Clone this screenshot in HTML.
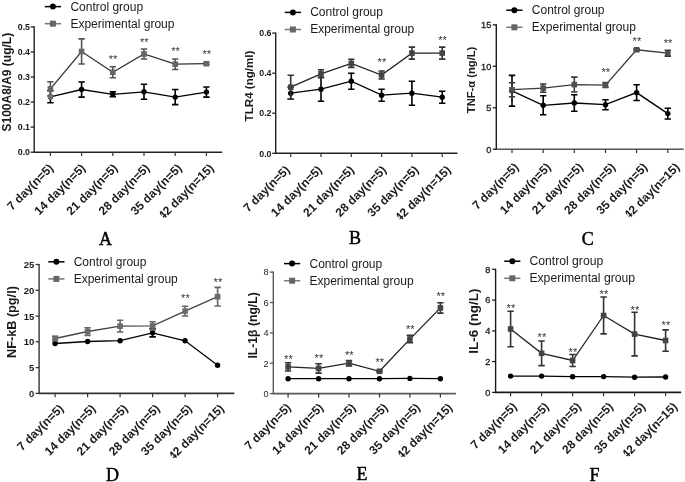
<!DOCTYPE html>
<html><head><meta charset="utf-8"><style>
html,body{margin:0;padding:0;background:#fff;}
body{width:685px;height:482px;overflow:hidden;}
svg{display:block;font-family:"Liberation Sans", sans-serif;filter:blur(0.3px);}
</style></head><body>
<svg width="685" height="482" viewBox="0 0 685 482">
<defs><clipPath id="lc" clipPathUnits="userSpaceOnUse"><rect x="-70.8" y="-20" width="80" height="35"/></clipPath></defs>
<rect width="685" height="482" fill="#fff"/>
<g>
<line x1="33.6" y1="152.2" x2="222.2" y2="152.2" stroke="#222" stroke-width="1.6"/>
<line x1="34.2" y1="26.3" x2="34.2" y2="152.2" stroke="#222" stroke-width="1.4"/>
<line x1="30.7" y1="152.2" x2="34.2" y2="152.2" stroke="#222" stroke-width="1.3"/>
<text x="30.0" y="155.4" font-size="8.8" font-weight="bold" text-anchor="end" fill="#1a1a1a">0.0</text>
<line x1="30.7" y1="127.1" x2="34.2" y2="127.1" stroke="#222" stroke-width="1.3"/>
<text x="30.0" y="130.3" font-size="8.8" font-weight="bold" text-anchor="end" fill="#1a1a1a">0.1</text>
<line x1="30.7" y1="102.1" x2="34.2" y2="102.1" stroke="#222" stroke-width="1.3"/>
<text x="30.0" y="105.2" font-size="8.8" font-weight="bold" text-anchor="end" fill="#1a1a1a">0.2</text>
<line x1="30.7" y1="77.0" x2="34.2" y2="77.0" stroke="#222" stroke-width="1.3"/>
<text x="30.0" y="80.2" font-size="8.8" font-weight="bold" text-anchor="end" fill="#1a1a1a">0.3</text>
<line x1="30.7" y1="52.0" x2="34.2" y2="52.0" stroke="#222" stroke-width="1.3"/>
<text x="30.0" y="55.1" font-size="8.8" font-weight="bold" text-anchor="end" fill="#1a1a1a">0.4</text>
<line x1="30.7" y1="26.9" x2="34.2" y2="26.9" stroke="#222" stroke-width="1.3"/>
<text x="30.0" y="30.1" font-size="8.8" font-weight="bold" text-anchor="end" fill="#1a1a1a">0.5</text>
<line x1="50.4" y1="152.2" x2="50.4" y2="156.0" stroke="#333" stroke-width="1.2"/>
<text transform="translate(54.1 168.8) rotate(-45)" font-size="12" font-weight="bold" text-anchor="end" fill="#1a1a1a">7 day(n=5)</text>
<line x1="81.6" y1="152.2" x2="81.6" y2="156.0" stroke="#333" stroke-width="1.2"/>
<text transform="translate(86.2 168.8) rotate(-45)" font-size="12" font-weight="bold" text-anchor="end" fill="#1a1a1a">14 day(n=5)</text>
<line x1="112.8" y1="152.2" x2="112.8" y2="156.0" stroke="#333" stroke-width="1.2"/>
<text transform="translate(118.3 168.8) rotate(-45)" font-size="12" font-weight="bold" text-anchor="end" fill="#1a1a1a">21 day(n=5)</text>
<line x1="144.0" y1="152.2" x2="144.0" y2="156.0" stroke="#333" stroke-width="1.2"/>
<text transform="translate(150.4 168.8) rotate(-45)" font-size="12" font-weight="bold" text-anchor="end" fill="#1a1a1a">28 day(n=5)</text>
<line x1="175.2" y1="152.2" x2="175.2" y2="156.0" stroke="#333" stroke-width="1.2"/>
<text transform="translate(182.5 168.8) rotate(-45)" font-size="12" font-weight="bold" text-anchor="end" fill="#1a1a1a">35 day(n=5)</text>
<line x1="206.4" y1="152.2" x2="206.4" y2="156.0" stroke="#333" stroke-width="1.2"/>
<text transform="translate(214.6 168.8) rotate(-45)" font-size="12" font-weight="bold" text-anchor="end" fill="#1a1a1a" clip-path="url(#lc)">42 day(n=15)</text>
<text transform="translate(11.0 131.5) rotate(-90)" font-size="12.0" font-weight="bold" fill="#1a1a1a">S100A8/A9 (ug/L)</text>
<text x="105.5" y="245.3" font-family='"Liberation Serif", serif' font-size="18" text-anchor="middle" fill="#000" stroke="#000" stroke-width="0.45">A</text>
<line x1="44.8" y1="6.6" x2="61.0" y2="6.6" stroke="#000" stroke-width="1.5"/>
<circle cx="52.9" cy="6.6" r="3.0" fill="#000"/>
<text x="70.4" y="10.5" font-size="12.0" fill="#1a1a1a">Control group</text>
<line x1="44.8" y1="23.7" x2="61.0" y2="23.7" stroke="#777" stroke-width="1.5"/>
<rect x="49.9" y="20.7" width="6" height="6" fill="#666"/>
<text x="70.4" y="27.6" font-size="12.0" fill="#1a1a1a">Experimental group</text>
<polyline points="50.4,96.8 81.6,89.5 112.8,94.3 144.0,91.8 175.2,97.1 206.4,92.1" fill="none" stroke="#000" stroke-width="1.3"/>
<path d="M50.4 90.8 V102.8 M47.2 90.8 h6.4 M47.2 102.8 h6.4" stroke="#000" stroke-width="1.6" fill="none"/>
<circle cx="50.4" cy="96.8" r="2.7" fill="#000"/>
<path d="M81.6 82.0 V97.1 M78.4 82.0 h6.4 M78.4 97.1 h6.4" stroke="#000" stroke-width="1.6" fill="none"/>
<circle cx="81.6" cy="89.5" r="2.7" fill="#000"/>
<path d="M112.8 91.8 V96.8 M109.6 91.8 h6.4 M109.6 96.8 h6.4" stroke="#000" stroke-width="1.6" fill="none"/>
<circle cx="112.8" cy="94.3" r="2.7" fill="#000"/>
<path d="M144.0 84.3 V99.3 M140.8 84.3 h6.4 M140.8 99.3 h6.4" stroke="#000" stroke-width="1.6" fill="none"/>
<circle cx="144.0" cy="91.8" r="2.7" fill="#000"/>
<path d="M175.2 89.5 V104.6 M172.0 89.5 h6.4 M172.0 104.6 h6.4" stroke="#000" stroke-width="1.6" fill="none"/>
<circle cx="175.2" cy="97.1" r="2.7" fill="#000"/>
<path d="M206.4 87.0 V97.1 M203.2 87.0 h6.4 M203.2 97.1 h6.4" stroke="#000" stroke-width="1.6" fill="none"/>
<circle cx="206.4" cy="92.1" r="2.7" fill="#000"/>
<polyline points="50.4,88.8 81.6,51.5 112.8,72.3 144.0,54.0 175.2,64.2 206.4,63.7" fill="none" stroke="#333" stroke-width="1.3"/>
<path d="M50.4 81.8 V95.8 M47.2 81.8 h6.4 M47.2 95.8 h6.4" stroke="#555" stroke-width="1.6" fill="none"/>
<rect x="47.6" y="86.0" width="5.6" height="5.6" fill="#666"/>
<path d="M81.6 38.9 V64.0 M78.4 38.9 h6.4 M78.4 64.0 h6.4" stroke="#555" stroke-width="1.6" fill="none"/>
<rect x="78.8" y="48.7" width="5.6" height="5.6" fill="#666"/>
<path d="M112.8 66.7 V77.8 M109.6 66.7 h6.4 M109.6 77.8 h6.4" stroke="#555" stroke-width="1.6" fill="none"/>
<rect x="110.0" y="69.5" width="5.6" height="5.6" fill="#666"/>
<path d="M144.0 49.0 V59.0 M140.8 49.0 h6.4 M140.8 59.0 h6.4" stroke="#555" stroke-width="1.6" fill="none"/>
<rect x="141.2" y="51.2" width="5.6" height="5.6" fill="#666"/>
<path d="M175.2 59.0 V69.5 M172.0 59.0 h6.4 M172.0 69.5 h6.4" stroke="#555" stroke-width="1.6" fill="none"/>
<rect x="172.4" y="61.4" width="5.6" height="5.6" fill="#666"/>
<path d="M206.4 62.7 V64.7 M203.2 62.7 h6.4 M203.2 64.7 h6.4" stroke="#555" stroke-width="1.6" fill="none"/>
<rect x="203.6" y="60.9" width="5.6" height="5.6" fill="#666"/>
<text x="113.1" y="62.7" font-size="11" text-anchor="middle" fill="#333">**</text>
<text x="144.3" y="45.5" font-size="11" text-anchor="middle" fill="#333">**</text>
<text x="175.5" y="54.8" font-size="11" text-anchor="middle" fill="#333">**</text>
<text x="206.7" y="57.8" font-size="11" text-anchor="middle" fill="#333">**</text>
<path d="M50.4 93.8 l3 3 l-3 3 l-3 -3 z" fill="#777"/>
</g>
<g>
<line x1="275.1" y1="153.3" x2="457.5" y2="153.3" stroke="#222" stroke-width="1.6"/>
<line x1="275.7" y1="32.5" x2="275.7" y2="153.3" stroke="#222" stroke-width="1.4"/>
<line x1="272.2" y1="153.3" x2="275.7" y2="153.3" stroke="#222" stroke-width="1.3"/>
<text x="271.5" y="156.5" font-size="8.8" font-weight="bold" text-anchor="end" fill="#1a1a1a">0.0</text>
<line x1="272.2" y1="113.2" x2="275.7" y2="113.2" stroke="#222" stroke-width="1.3"/>
<text x="271.5" y="116.4" font-size="8.8" font-weight="bold" text-anchor="end" fill="#1a1a1a">0.2</text>
<line x1="272.2" y1="73.2" x2="275.7" y2="73.2" stroke="#222" stroke-width="1.3"/>
<text x="271.5" y="76.3" font-size="8.8" font-weight="bold" text-anchor="end" fill="#1a1a1a">0.4</text>
<line x1="272.2" y1="33.1" x2="275.7" y2="33.1" stroke="#222" stroke-width="1.3"/>
<text x="271.5" y="36.3" font-size="8.8" font-weight="bold" text-anchor="end" fill="#1a1a1a">0.6</text>
<line x1="290.7" y1="153.3" x2="290.7" y2="157.1" stroke="#333" stroke-width="1.2"/>
<text transform="translate(290.5 170.6) rotate(-45)" font-size="12" font-weight="bold" text-anchor="end" fill="#1a1a1a">7 day(n=5)</text>
<line x1="321.0" y1="153.3" x2="321.0" y2="157.1" stroke="#333" stroke-width="1.2"/>
<text transform="translate(322.7 170.6) rotate(-45)" font-size="12" font-weight="bold" text-anchor="end" fill="#1a1a1a">14 day(n=5)</text>
<line x1="351.3" y1="153.3" x2="351.3" y2="157.1" stroke="#333" stroke-width="1.2"/>
<text transform="translate(354.9 170.6) rotate(-45)" font-size="12" font-weight="bold" text-anchor="end" fill="#1a1a1a">21 day(n=5)</text>
<line x1="381.6" y1="153.3" x2="381.6" y2="157.1" stroke="#333" stroke-width="1.2"/>
<text transform="translate(387.1 170.6) rotate(-45)" font-size="12" font-weight="bold" text-anchor="end" fill="#1a1a1a">28 day(n=5)</text>
<line x1="411.9" y1="153.3" x2="411.9" y2="157.1" stroke="#333" stroke-width="1.2"/>
<text transform="translate(419.3 170.6) rotate(-45)" font-size="12" font-weight="bold" text-anchor="end" fill="#1a1a1a">35 day(n=5)</text>
<line x1="442.2" y1="153.3" x2="442.2" y2="157.1" stroke="#333" stroke-width="1.2"/>
<text transform="translate(451.5 170.6) rotate(-45)" font-size="12" font-weight="bold" text-anchor="end" fill="#1a1a1a" clip-path="url(#lc)">42 day(n=15)</text>
<text transform="translate(253.3 121.4) rotate(-90)" font-size="11.6" font-weight="bold" fill="#1a1a1a">TLR4 (ng/ml)</text>
<text x="354.9" y="244.3" font-family='"Liberation Serif", serif' font-size="18" text-anchor="middle" fill="#000" stroke="#000" stroke-width="0.45">B</text>
<line x1="284.8" y1="12.4" x2="301.0" y2="12.4" stroke="#000" stroke-width="1.5"/>
<circle cx="292.9" cy="12.4" r="3.0" fill="#000"/>
<text x="310.2" y="16.3" font-size="12.0" fill="#1a1a1a">Control group</text>
<line x1="284.8" y1="29.5" x2="301.0" y2="29.5" stroke="#777" stroke-width="1.5"/>
<rect x="289.9" y="26.5" width="6" height="6" fill="#666"/>
<text x="310.2" y="33.4" font-size="12.0" fill="#1a1a1a">Experimental group</text>
<polyline points="290.7,93.2 321.0,89.2 351.3,81.2 381.6,95.2 411.9,93.2 442.2,97.2" fill="none" stroke="#000" stroke-width="1.3"/>
<path d="M290.7 87.2 V99.2 M287.5 87.2 h6.4 M287.5 99.2 h6.4" stroke="#000" stroke-width="1.6" fill="none"/>
<circle cx="290.7" cy="93.2" r="2.7" fill="#000"/>
<path d="M321.0 77.2 V101.2 M317.8 77.2 h6.4 M317.8 101.2 h6.4" stroke="#000" stroke-width="1.6" fill="none"/>
<circle cx="321.0" cy="89.2" r="2.7" fill="#000"/>
<path d="M351.3 73.2 V89.2 M348.1 73.2 h6.4 M348.1 89.2 h6.4" stroke="#000" stroke-width="1.6" fill="none"/>
<circle cx="351.3" cy="81.2" r="2.7" fill="#000"/>
<path d="M381.6 89.2 V101.2 M378.4 89.2 h6.4 M378.4 101.2 h6.4" stroke="#000" stroke-width="1.6" fill="none"/>
<circle cx="381.6" cy="95.2" r="2.7" fill="#000"/>
<path d="M411.9 81.2 V105.2 M408.7 81.2 h6.4 M408.7 105.2 h6.4" stroke="#000" stroke-width="1.6" fill="none"/>
<circle cx="411.9" cy="93.2" r="2.7" fill="#000"/>
<path d="M442.2 91.2 V103.2 M439.0 91.2 h6.4 M439.0 103.2 h6.4" stroke="#000" stroke-width="1.6" fill="none"/>
<circle cx="442.2" cy="97.2" r="2.7" fill="#000"/>
<polyline points="290.7,87.2 321.0,73.8 351.3,63.4 381.6,75.0 411.9,53.1 442.2,53.1" fill="none" stroke="#222" stroke-width="1.3"/>
<path d="M290.7 75.2 V99.2 M287.5 75.2 h6.4 M287.5 99.2 h6.4" stroke="#333" stroke-width="1.6" fill="none"/>
<rect x="287.9" y="84.4" width="5.6" height="5.6" fill="#444"/>
<path d="M321.0 69.8 V77.8 M317.8 69.8 h6.4 M317.8 77.8 h6.4" stroke="#333" stroke-width="1.6" fill="none"/>
<rect x="318.2" y="71.0" width="5.6" height="5.6" fill="#444"/>
<path d="M351.3 59.3 V67.4 M348.1 59.3 h6.4 M348.1 67.4 h6.4" stroke="#333" stroke-width="1.6" fill="none"/>
<rect x="348.5" y="60.6" width="5.6" height="5.6" fill="#444"/>
<path d="M381.6 71.0 V79.0 M378.4 71.0 h6.4 M378.4 79.0 h6.4" stroke="#333" stroke-width="1.6" fill="none"/>
<rect x="378.8" y="72.2" width="5.6" height="5.6" fill="#444"/>
<path d="M411.9 47.1 V59.1 M408.7 47.1 h6.4 M408.7 59.1 h6.4" stroke="#333" stroke-width="1.6" fill="none"/>
<rect x="409.1" y="50.3" width="5.6" height="5.6" fill="#444"/>
<path d="M442.2 47.1 V59.1 M439.0 47.1 h6.4 M439.0 59.1 h6.4" stroke="#333" stroke-width="1.6" fill="none"/>
<rect x="439.4" y="50.3" width="5.6" height="5.6" fill="#444"/>
<text x="381.9" y="65.6" font-size="11" text-anchor="middle" fill="#333">**</text>
<text x="442.5" y="43.6" font-size="11" text-anchor="middle" fill="#333">**</text>
</g>
<g>
<line x1="495.7" y1="149.2" x2="683.7" y2="149.2" stroke="#555" stroke-width="1.6"/>
<line x1="496.3" y1="24.3" x2="496.3" y2="149.2" stroke="#1a1a1a" stroke-width="1.4"/>
<line x1="492.8" y1="149.2" x2="496.3" y2="149.2" stroke="#1a1a1a" stroke-width="1.3"/>
<text x="491.3" y="152.5" font-size="9.2" font-weight="normal" text-anchor="end" fill="#1a1a1a" stroke="#1a1a1a" stroke-width="0.30">0</text>
<line x1="492.8" y1="107.8" x2="496.3" y2="107.8" stroke="#1a1a1a" stroke-width="1.3"/>
<text x="491.3" y="111.1" font-size="9.2" font-weight="normal" text-anchor="end" fill="#1a1a1a" stroke="#1a1a1a" stroke-width="0.30">5</text>
<line x1="492.8" y1="66.3" x2="496.3" y2="66.3" stroke="#1a1a1a" stroke-width="1.3"/>
<text x="491.3" y="69.6" font-size="9.2" font-weight="normal" text-anchor="end" fill="#1a1a1a" stroke="#1a1a1a" stroke-width="0.30">10</text>
<line x1="492.8" y1="24.9" x2="496.3" y2="24.9" stroke="#1a1a1a" stroke-width="1.3"/>
<text x="491.3" y="28.2" font-size="9.2" font-weight="normal" text-anchor="end" fill="#1a1a1a" stroke="#1a1a1a" stroke-width="0.30">15</text>
<line x1="512.0" y1="149.2" x2="512.0" y2="153.0" stroke="#333" stroke-width="1.2"/>
<text transform="translate(519.4 168.0) rotate(-45)" font-size="12" font-weight="bold" text-anchor="end" fill="#1a1a1a">7 day(n=5)</text>
<line x1="543.2" y1="149.2" x2="543.2" y2="153.0" stroke="#333" stroke-width="1.2"/>
<text transform="translate(551.6 168.0) rotate(-45)" font-size="12" font-weight="bold" text-anchor="end" fill="#1a1a1a">14 day(n=5)</text>
<line x1="574.3" y1="149.2" x2="574.3" y2="153.0" stroke="#333" stroke-width="1.2"/>
<text transform="translate(583.8 168.0) rotate(-45)" font-size="12" font-weight="bold" text-anchor="end" fill="#1a1a1a">21 day(n=5)</text>
<line x1="605.5" y1="149.2" x2="605.5" y2="153.0" stroke="#333" stroke-width="1.2"/>
<text transform="translate(616.0 168.0) rotate(-45)" font-size="12" font-weight="bold" text-anchor="end" fill="#1a1a1a">28 day(n=5)</text>
<line x1="636.6" y1="149.2" x2="636.6" y2="153.0" stroke="#333" stroke-width="1.2"/>
<text transform="translate(648.2 168.0) rotate(-45)" font-size="12" font-weight="bold" text-anchor="end" fill="#1a1a1a">35 day(n=5)</text>
<line x1="667.8" y1="149.2" x2="667.8" y2="153.0" stroke="#333" stroke-width="1.2"/>
<text transform="translate(680.4 168.0) rotate(-45)" font-size="12" font-weight="bold" text-anchor="end" fill="#1a1a1a" clip-path="url(#lc)">42 day(n=15)</text>
<text transform="translate(475.3 113.2) rotate(-90)" font-size="11.2" font-weight="bold" fill="#1a1a1a">TNF-α (ng/L)</text>
<text x="587.7" y="244.5" font-family='"Liberation Serif", serif' font-size="18" text-anchor="middle" fill="#000" stroke="#000" stroke-width="0.45">C</text>
<line x1="506.3" y1="10.2" x2="522.5" y2="10.2" stroke="#000" stroke-width="1.5"/>
<circle cx="514.4" cy="10.2" r="3.0" fill="#000"/>
<text x="531.8" y="14.1" font-size="12.0" fill="#1a1a1a">Control group</text>
<line x1="506.3" y1="27.3" x2="522.5" y2="27.3" stroke="#777" stroke-width="1.5"/>
<rect x="511.4" y="24.3" width="6" height="6" fill="#666"/>
<text x="531.8" y="31.2" font-size="12.0" fill="#1a1a1a">Experimental group</text>
<polyline points="512.0,90.8 543.2,105.3 574.3,103.0 605.5,104.7 636.6,92.6 667.8,113.6" fill="none" stroke="#000" stroke-width="1.3"/>
<path d="M512.0 75.4 V106.1 M508.8 75.4 h6.4 M508.8 106.1 h6.4" stroke="#000" stroke-width="1.6" fill="none"/>
<circle cx="512.0" cy="90.8" r="2.7" fill="#000"/>
<path d="M543.2 95.8 V114.8 M540.0 95.8 h6.4 M540.0 114.8 h6.4" stroke="#000" stroke-width="1.6" fill="none"/>
<circle cx="543.2" cy="105.3" r="2.7" fill="#000"/>
<path d="M574.3 94.8 V111.3 M571.1 94.8 h6.4 M571.1 111.3 h6.4" stroke="#000" stroke-width="1.6" fill="none"/>
<circle cx="574.3" cy="103.0" r="2.7" fill="#000"/>
<path d="M605.5 99.7 V109.7 M602.3 99.7 h6.4 M602.3 109.7 h6.4" stroke="#000" stroke-width="1.6" fill="none"/>
<circle cx="605.5" cy="104.7" r="2.7" fill="#000"/>
<path d="M636.6 84.7 V100.5 M633.4 84.7 h6.4 M633.4 100.5 h6.4" stroke="#000" stroke-width="1.6" fill="none"/>
<circle cx="636.6" cy="92.6" r="2.7" fill="#000"/>
<path d="M667.8 108.2 V119.0 M664.6 108.2 h6.4 M664.6 119.0 h6.4" stroke="#000" stroke-width="1.6" fill="none"/>
<circle cx="667.8" cy="113.6" r="2.7" fill="#000"/>
<polyline points="512.0,89.7 543.2,88.1 574.3,84.6 605.5,85.1 636.6,49.8 667.8,53.2" fill="none" stroke="#3a3a3a" stroke-width="1.3"/>
<path d="M512.0 82.7 V96.7 M508.8 82.7 h6.4 M508.8 96.7 h6.4" stroke="#3a3a3a" stroke-width="1.6" fill="none"/>
<rect x="509.2" y="86.9" width="5.6" height="5.6" fill="#505050"/>
<path d="M543.2 84.0 V92.3 M540.0 84.0 h6.4 M540.0 92.3 h6.4" stroke="#3a3a3a" stroke-width="1.6" fill="none"/>
<rect x="540.4" y="85.3" width="5.6" height="5.6" fill="#505050"/>
<path d="M574.3 77.1 V92.0 M571.1 77.1 h6.4 M571.1 92.0 h6.4" stroke="#3a3a3a" stroke-width="1.6" fill="none"/>
<rect x="571.5" y="81.8" width="5.6" height="5.6" fill="#505050"/>
<path d="M605.5 82.6 V87.5 M602.3 82.6 h6.4 M602.3 87.5 h6.4" stroke="#3a3a3a" stroke-width="1.6" fill="none"/>
<rect x="602.7" y="82.3" width="5.6" height="5.6" fill="#505050"/>
<path d="M636.6 48.9 V50.6 M633.4 48.9 h6.4 M633.4 50.6 h6.4" stroke="#3a3a3a" stroke-width="1.6" fill="none"/>
<rect x="633.8" y="47.0" width="5.6" height="5.6" fill="#505050"/>
<path d="M667.8 50.3 V56.1 M664.6 50.3 h6.4 M664.6 56.1 h6.4" stroke="#3a3a3a" stroke-width="1.6" fill="none"/>
<rect x="665.0" y="50.4" width="5.6" height="5.6" fill="#505050"/>
<text x="605.8" y="76.4" font-size="11" text-anchor="middle" fill="#333">**</text>
<text x="636.9" y="44.8" font-size="11" text-anchor="middle" fill="#333">**</text>
<text x="668.1" y="46.9" font-size="11" text-anchor="middle" fill="#333">**</text>
</g>
<g>
<line x1="38.5" y1="393.4" x2="234.3" y2="393.4" stroke="#333" stroke-width="1.6"/>
<line x1="39.1" y1="263.9" x2="39.1" y2="393.4" stroke="#333" stroke-width="1.4"/>
<line x1="35.6" y1="393.4" x2="39.1" y2="393.4" stroke="#333" stroke-width="1.3"/>
<text x="34.3" y="396.8" font-size="9.5" font-weight="bold" text-anchor="end" fill="#1a1a1a">0</text>
<line x1="35.6" y1="367.6" x2="39.1" y2="367.6" stroke="#333" stroke-width="1.3"/>
<text x="34.3" y="371.0" font-size="9.5" font-weight="bold" text-anchor="end" fill="#1a1a1a">5</text>
<line x1="35.6" y1="341.8" x2="39.1" y2="341.8" stroke="#333" stroke-width="1.3"/>
<text x="34.3" y="345.3" font-size="9.5" font-weight="bold" text-anchor="end" fill="#1a1a1a">10</text>
<line x1="35.6" y1="316.1" x2="39.1" y2="316.1" stroke="#333" stroke-width="1.3"/>
<text x="34.3" y="319.5" font-size="9.5" font-weight="bold" text-anchor="end" fill="#1a1a1a">15</text>
<line x1="35.6" y1="290.3" x2="39.1" y2="290.3" stroke="#333" stroke-width="1.3"/>
<text x="34.3" y="293.7" font-size="9.5" font-weight="bold" text-anchor="end" fill="#1a1a1a">20</text>
<line x1="35.6" y1="264.5" x2="39.1" y2="264.5" stroke="#333" stroke-width="1.3"/>
<text x="34.3" y="267.9" font-size="9.5" font-weight="bold" text-anchor="end" fill="#1a1a1a">25</text>
<line x1="55.1" y1="393.4" x2="55.1" y2="397.2" stroke="#333" stroke-width="1.2"/>
<text transform="translate(64.3 409.3) rotate(-45)" font-size="12" font-weight="bold" text-anchor="end" fill="#1a1a1a">7 day(n=5)</text>
<line x1="87.6" y1="393.4" x2="87.6" y2="397.2" stroke="#333" stroke-width="1.2"/>
<text transform="translate(96.4 409.3) rotate(-45)" font-size="12" font-weight="bold" text-anchor="end" fill="#1a1a1a">14 day(n=5)</text>
<line x1="120.1" y1="393.4" x2="120.1" y2="397.2" stroke="#333" stroke-width="1.2"/>
<text transform="translate(128.5 409.3) rotate(-45)" font-size="12" font-weight="bold" text-anchor="end" fill="#1a1a1a">21 day(n=5)</text>
<line x1="152.6" y1="393.4" x2="152.6" y2="397.2" stroke="#333" stroke-width="1.2"/>
<text transform="translate(160.6 409.3) rotate(-45)" font-size="12" font-weight="bold" text-anchor="end" fill="#1a1a1a">28 day(n=5)</text>
<line x1="185.1" y1="393.4" x2="185.1" y2="397.2" stroke="#333" stroke-width="1.2"/>
<text transform="translate(192.7 409.3) rotate(-45)" font-size="12" font-weight="bold" text-anchor="end" fill="#1a1a1a">35 day(n=5)</text>
<line x1="217.6" y1="393.4" x2="217.6" y2="397.2" stroke="#333" stroke-width="1.2"/>
<text transform="translate(224.8 409.3) rotate(-45)" font-size="12" font-weight="bold" text-anchor="end" fill="#1a1a1a" clip-path="url(#lc)">42 day(n=15)</text>
<text transform="translate(16.0 358.0) rotate(-90)" font-size="12.7" font-weight="bold" fill="#1a1a1a">NF-kB (pg/l)</text>
<text x="112.5" y="480.7" font-family='"Liberation Serif", serif' font-size="18" text-anchor="middle" fill="#000" stroke="#000" stroke-width="0.45">D</text>
<line x1="48.3" y1="261.8" x2="64.5" y2="261.8" stroke="#000" stroke-width="1.5"/>
<circle cx="56.4" cy="261.8" r="3.0" fill="#000"/>
<text x="73.7" y="265.7" font-size="12.0" fill="#1a1a1a">Control group</text>
<line x1="48.3" y1="278.9" x2="64.5" y2="278.9" stroke="#777" stroke-width="1.5"/>
<rect x="53.4" y="275.9" width="6" height="6" fill="#666"/>
<text x="73.7" y="282.8" font-size="12.0" fill="#1a1a1a">Experimental group</text>
<polyline points="55.1,343.5 87.6,341.5 120.1,340.7 152.6,332.8 185.1,340.8 217.6,365.3" fill="none" stroke="#000" stroke-width="1.3"/>
<circle cx="55.1" cy="343.5" r="2.7" fill="#000"/>
<circle cx="87.6" cy="341.5" r="2.7" fill="#000"/>
<circle cx="120.1" cy="340.7" r="2.7" fill="#000"/>
<path d="M152.6 328.7 V336.9 M149.4 328.7 h6.4 M149.4 336.9 h6.4" stroke="#000" stroke-width="1.6" fill="none"/>
<circle cx="152.6" cy="332.8" r="2.7" fill="#000"/>
<circle cx="185.1" cy="340.8" r="2.7" fill="#000"/>
<circle cx="217.6" cy="365.3" r="2.7" fill="#000"/>
<polyline points="55.1,338.5 87.6,331.5 120.1,326.1 152.6,325.9 185.1,311.1 217.6,296.7" fill="none" stroke="#444" stroke-width="1.3"/>
<path d="M55.1 336.4 V340.6 M51.9 336.4 h6.4 M51.9 340.6 h6.4" stroke="#666" stroke-width="1.6" fill="none"/>
<rect x="52.3" y="335.7" width="5.6" height="5.6" fill="#6a6a6a"/>
<path d="M87.6 327.7 V335.4 M84.4 327.7 h6.4 M84.4 335.4 h6.4" stroke="#666" stroke-width="1.6" fill="none"/>
<rect x="84.8" y="328.7" width="5.6" height="5.6" fill="#6a6a6a"/>
<path d="M120.1 320.2 V332.0 M116.9 320.2 h6.4 M116.9 332.0 h6.4" stroke="#666" stroke-width="1.6" fill="none"/>
<rect x="117.3" y="323.3" width="5.6" height="5.6" fill="#6a6a6a"/>
<path d="M152.6 321.7 V330.0 M149.4 321.7 h6.4 M149.4 330.0 h6.4" stroke="#666" stroke-width="1.6" fill="none"/>
<rect x="149.8" y="323.1" width="5.6" height="5.6" fill="#6a6a6a"/>
<path d="M185.1 306.2 V316.0 M181.9 306.2 h6.4 M181.9 316.0 h6.4" stroke="#666" stroke-width="1.6" fill="none"/>
<rect x="182.3" y="308.3" width="5.6" height="5.6" fill="#6a6a6a"/>
<path d="M217.6 287.4 V306.0 M214.4 287.4 h6.4 M214.4 306.0 h6.4" stroke="#666" stroke-width="1.6" fill="none"/>
<rect x="214.8" y="293.9" width="5.6" height="5.6" fill="#6a6a6a"/>
<text x="185.4" y="302.4" font-size="11" text-anchor="middle" fill="#333">**</text>
<text x="217.9" y="285.8" font-size="11" text-anchor="middle" fill="#333">**</text>
</g>
<g>
<line x1="272.7" y1="393.6" x2="455.9" y2="393.6" stroke="#5a5a5a" stroke-width="1.6"/>
<line x1="273.3" y1="271.5" x2="273.3" y2="393.6" stroke="#5a5a5a" stroke-width="1.4"/>
<line x1="269.8" y1="393.6" x2="273.3" y2="393.6" stroke="#5a5a5a" stroke-width="1.3"/>
<text x="268.5" y="396.9" font-size="9.2" font-weight="normal" text-anchor="end" fill="#1a1a1a">0</text>
<line x1="269.8" y1="363.2" x2="273.3" y2="363.2" stroke="#5a5a5a" stroke-width="1.3"/>
<text x="268.5" y="366.5" font-size="9.2" font-weight="normal" text-anchor="end" fill="#1a1a1a">2</text>
<line x1="269.8" y1="332.9" x2="273.3" y2="332.9" stroke="#5a5a5a" stroke-width="1.3"/>
<text x="268.5" y="336.2" font-size="9.2" font-weight="normal" text-anchor="end" fill="#1a1a1a">4</text>
<line x1="269.8" y1="302.5" x2="273.3" y2="302.5" stroke="#5a5a5a" stroke-width="1.3"/>
<text x="268.5" y="305.8" font-size="9.2" font-weight="normal" text-anchor="end" fill="#1a1a1a">6</text>
<line x1="269.8" y1="272.1" x2="273.3" y2="272.1" stroke="#5a5a5a" stroke-width="1.3"/>
<text x="268.5" y="275.4" font-size="9.2" font-weight="normal" text-anchor="end" fill="#1a1a1a">8</text>
<line x1="288.1" y1="393.6" x2="288.1" y2="397.4" stroke="#333" stroke-width="1.2"/>
<text transform="translate(291.7 408.3) rotate(-45)" font-size="12" font-weight="bold" text-anchor="end" fill="#1a1a1a">7 day(n=5)</text>
<line x1="318.6" y1="393.6" x2="318.6" y2="397.4" stroke="#333" stroke-width="1.2"/>
<text transform="translate(324.0 408.3) rotate(-45)" font-size="12" font-weight="bold" text-anchor="end" fill="#1a1a1a">14 day(n=5)</text>
<line x1="349.0" y1="393.6" x2="349.0" y2="397.4" stroke="#333" stroke-width="1.2"/>
<text transform="translate(356.3 408.3) rotate(-45)" font-size="12" font-weight="bold" text-anchor="end" fill="#1a1a1a">21 day(n=5)</text>
<line x1="379.5" y1="393.6" x2="379.5" y2="397.4" stroke="#333" stroke-width="1.2"/>
<text transform="translate(388.6 408.3) rotate(-45)" font-size="12" font-weight="bold" text-anchor="end" fill="#1a1a1a">28 day(n=5)</text>
<line x1="409.9" y1="393.6" x2="409.9" y2="397.4" stroke="#333" stroke-width="1.2"/>
<text transform="translate(420.9 408.3) rotate(-45)" font-size="12" font-weight="bold" text-anchor="end" fill="#1a1a1a">35 day(n=5)</text>
<line x1="440.4" y1="393.6" x2="440.4" y2="397.4" stroke="#333" stroke-width="1.2"/>
<text transform="translate(453.2 408.3) rotate(-45)" font-size="12" font-weight="bold" text-anchor="end" fill="#1a1a1a" clip-path="url(#lc)">42 day(n=15)</text>
<text transform="translate(256.8 358.6) rotate(-90)" font-size="12.2" font-weight="bold" fill="#1a1a1a">IL-1β (ng/L)</text>
<text x="362.0" y="479.8" font-family='"Liberation Serif", serif' font-size="18" text-anchor="middle" fill="#000" stroke="#000" stroke-width="0.45">E</text>
<line x1="284.0" y1="263.6" x2="300.2" y2="263.6" stroke="#000" stroke-width="1.5"/>
<circle cx="292.1" cy="263.6" r="3.0" fill="#000"/>
<text x="309.5" y="267.5" font-size="12.0" fill="#1a1a1a">Control group</text>
<line x1="284.0" y1="280.7" x2="300.2" y2="280.7" stroke="#777" stroke-width="1.5"/>
<rect x="289.1" y="277.7" width="6" height="6" fill="#666"/>
<text x="309.5" y="284.6" font-size="12.0" fill="#1a1a1a">Experimental group</text>
<polyline points="288.1,378.7 318.6,378.7 349.0,378.7 379.5,378.7 409.9,378.4 440.4,378.7" fill="none" stroke="#000" stroke-width="1.3"/>
<circle cx="288.1" cy="378.7" r="2.7" fill="#000"/>
<circle cx="318.6" cy="378.7" r="2.7" fill="#000"/>
<circle cx="349.0" cy="378.7" r="2.7" fill="#000"/>
<circle cx="379.5" cy="378.7" r="2.7" fill="#000"/>
<circle cx="409.9" cy="378.4" r="2.7" fill="#000"/>
<circle cx="440.4" cy="378.7" r="2.7" fill="#000"/>
<polyline points="288.1,366.9 318.6,368.4 349.0,363.2 379.5,371.3 409.9,339.1 440.4,307.9" fill="none" stroke="#222" stroke-width="1.3"/>
<path d="M288.1 362.8 V371.0 M284.9 362.8 h6.4 M284.9 371.0 h6.4" stroke="#333" stroke-width="1.6" fill="none"/>
<rect x="285.3" y="364.1" width="5.6" height="5.6" fill="#444"/>
<path d="M318.6 363.7 V373.1 M315.4 363.7 h6.4 M315.4 373.1 h6.4" stroke="#333" stroke-width="1.6" fill="none"/>
<rect x="315.8" y="365.6" width="5.6" height="5.6" fill="#444"/>
<path d="M349.0 360.5 V366.0 M345.8 360.5 h6.4 M345.8 366.0 h6.4" stroke="#333" stroke-width="1.6" fill="none"/>
<rect x="346.2" y="360.4" width="5.6" height="5.6" fill="#444"/>
<path d="M379.5 370.5 V372.0 M376.3 370.5 h6.4 M376.3 372.0 h6.4" stroke="#333" stroke-width="1.6" fill="none"/>
<rect x="376.7" y="368.5" width="5.6" height="5.6" fill="#444"/>
<path d="M409.9 335.4 V342.7 M406.7 335.4 h6.4 M406.7 342.7 h6.4" stroke="#333" stroke-width="1.6" fill="none"/>
<rect x="407.1" y="336.3" width="5.6" height="5.6" fill="#444"/>
<path d="M440.4 302.8 V313.1 M437.2 302.8 h6.4 M437.2 313.1 h6.4" stroke="#333" stroke-width="1.6" fill="none"/>
<rect x="437.6" y="305.1" width="5.6" height="5.6" fill="#444"/>
<text x="288.4" y="362.8" font-size="11" text-anchor="middle" fill="#333">**</text>
<text x="318.9" y="361.8" font-size="11" text-anchor="middle" fill="#333">**</text>
<text x="349.3" y="358.5" font-size="11" text-anchor="middle" fill="#333">**</text>
<text x="379.8" y="366.0" font-size="11" text-anchor="middle" fill="#333">**</text>
<text x="410.2" y="332.8" font-size="11" text-anchor="middle" fill="#333">**</text>
<text x="440.7" y="300.1" font-size="11" text-anchor="middle" fill="#333">**</text>
</g>
<g>
<line x1="495.0" y1="392.4" x2="681.2" y2="392.4" stroke="#1a1a1a" stroke-width="1.6"/>
<line x1="495.6" y1="268.7" x2="495.6" y2="392.4" stroke="#1a1a1a" stroke-width="1.4"/>
<line x1="492.1" y1="392.4" x2="495.6" y2="392.4" stroke="#1a1a1a" stroke-width="1.3"/>
<text x="490.3" y="395.7" font-size="9.2" font-weight="normal" text-anchor="end" fill="#1a1a1a" stroke="#1a1a1a" stroke-width="0.30">0</text>
<line x1="492.1" y1="361.6" x2="495.6" y2="361.6" stroke="#1a1a1a" stroke-width="1.3"/>
<text x="490.3" y="364.9" font-size="9.2" font-weight="normal" text-anchor="end" fill="#1a1a1a" stroke="#1a1a1a" stroke-width="0.30">2</text>
<line x1="492.1" y1="330.9" x2="495.6" y2="330.9" stroke="#1a1a1a" stroke-width="1.3"/>
<text x="490.3" y="334.2" font-size="9.2" font-weight="normal" text-anchor="end" fill="#1a1a1a" stroke="#1a1a1a" stroke-width="0.30">4</text>
<line x1="492.1" y1="300.1" x2="495.6" y2="300.1" stroke="#1a1a1a" stroke-width="1.3"/>
<text x="490.3" y="303.4" font-size="9.2" font-weight="normal" text-anchor="end" fill="#1a1a1a" stroke="#1a1a1a" stroke-width="0.30">6</text>
<line x1="492.1" y1="269.3" x2="495.6" y2="269.3" stroke="#1a1a1a" stroke-width="1.3"/>
<text x="490.3" y="272.6" font-size="9.2" font-weight="normal" text-anchor="end" fill="#1a1a1a" stroke="#1a1a1a" stroke-width="0.30">8</text>
<line x1="510.6" y1="392.4" x2="510.6" y2="396.2" stroke="#333" stroke-width="1.2"/>
<text transform="translate(517.6 407.5) rotate(-45)" font-size="12" font-weight="bold" text-anchor="end" fill="#1a1a1a">7 day(n=5)</text>
<line x1="541.6" y1="392.4" x2="541.6" y2="396.2" stroke="#333" stroke-width="1.2"/>
<text transform="translate(549.7 407.5) rotate(-45)" font-size="12" font-weight="bold" text-anchor="end" fill="#1a1a1a">14 day(n=5)</text>
<line x1="572.6" y1="392.4" x2="572.6" y2="396.2" stroke="#333" stroke-width="1.2"/>
<text transform="translate(581.8 407.5) rotate(-45)" font-size="12" font-weight="bold" text-anchor="end" fill="#1a1a1a">21 day(n=5)</text>
<line x1="603.6" y1="392.4" x2="603.6" y2="396.2" stroke="#333" stroke-width="1.2"/>
<text transform="translate(613.9 407.5) rotate(-45)" font-size="12" font-weight="bold" text-anchor="end" fill="#1a1a1a">28 day(n=5)</text>
<line x1="634.6" y1="392.4" x2="634.6" y2="396.2" stroke="#333" stroke-width="1.2"/>
<text transform="translate(646.0 407.5) rotate(-45)" font-size="12" font-weight="bold" text-anchor="end" fill="#1a1a1a">35 day(n=5)</text>
<line x1="665.6" y1="392.4" x2="665.6" y2="396.2" stroke="#333" stroke-width="1.2"/>
<text transform="translate(678.1 407.5) rotate(-45)" font-size="12" font-weight="bold" text-anchor="end" fill="#1a1a1a" clip-path="url(#lc)">42 day(n=15)</text>
<text transform="translate(478.2 353.8) rotate(-90)" font-size="13.5" font-weight="bold" fill="#1a1a1a">IL-6 (ng/L)</text>
<text x="594.5" y="480.5" font-family='"Liberation Serif", serif' font-size="18" text-anchor="middle" fill="#000" stroke="#000" stroke-width="0.45">F</text>
<line x1="504.2" y1="261.2" x2="520.4" y2="261.2" stroke="#000" stroke-width="1.5"/>
<circle cx="512.3" cy="261.2" r="3.0" fill="#000"/>
<text x="529.4" y="265.1" font-size="12.2" fill="#1a1a1a">Control group</text>
<line x1="504.2" y1="278.3" x2="520.4" y2="278.3" stroke="#777" stroke-width="1.5"/>
<rect x="509.3" y="275.3" width="6" height="6" fill="#666"/>
<text x="529.4" y="282.2" font-size="12.2" fill="#1a1a1a">Experimental group</text>
<polyline points="510.6,376.1 541.6,376.1 572.6,376.7 603.6,376.6 634.6,377.2 665.6,377.0" fill="none" stroke="#000" stroke-width="1.3"/>
<circle cx="510.6" cy="376.1" r="2.7" fill="#000"/>
<circle cx="541.6" cy="376.1" r="2.7" fill="#000"/>
<circle cx="572.6" cy="376.7" r="2.7" fill="#000"/>
<circle cx="603.6" cy="376.6" r="2.7" fill="#000"/>
<circle cx="634.6" cy="377.2" r="2.7" fill="#000"/>
<circle cx="665.6" cy="377.0" r="2.7" fill="#000"/>
<polyline points="510.6,329.0 541.6,353.3 572.6,360.5 603.6,315.5 634.6,334.1 665.6,340.5" fill="none" stroke="#222" stroke-width="1.3"/>
<path d="M510.6 311.3 V346.7 M507.4 311.3 h6.4 M507.4 346.7 h6.4" stroke="#333" stroke-width="1.6" fill="none"/>
<rect x="507.8" y="326.2" width="5.6" height="5.6" fill="#444"/>
<path d="M541.6 341.0 V365.6 M538.4 341.0 h6.4 M538.4 365.6 h6.4" stroke="#333" stroke-width="1.6" fill="none"/>
<rect x="538.8" y="350.5" width="5.6" height="5.6" fill="#444"/>
<path d="M572.6 354.5 V366.5 M569.4 354.5 h6.4 M569.4 366.5 h6.4" stroke="#333" stroke-width="1.6" fill="none"/>
<rect x="569.8" y="357.7" width="5.6" height="5.6" fill="#444"/>
<path d="M603.6 297.0 V333.9 M600.4 297.0 h6.4 M600.4 333.9 h6.4" stroke="#333" stroke-width="1.6" fill="none"/>
<rect x="600.8" y="312.7" width="5.6" height="5.6" fill="#444"/>
<path d="M634.6 312.2 V355.9 M631.4 312.2 h6.4 M631.4 355.9 h6.4" stroke="#333" stroke-width="1.6" fill="none"/>
<rect x="631.8" y="331.3" width="5.6" height="5.6" fill="#444"/>
<path d="M665.6 329.9 V351.2 M662.4 329.9 h6.4 M662.4 351.2 h6.4" stroke="#333" stroke-width="1.6" fill="none"/>
<rect x="662.8" y="337.7" width="5.6" height="5.6" fill="#444"/>
<text x="510.9" y="312.1" font-size="11" text-anchor="middle" fill="#333">**</text>
<text x="541.9" y="340.5" font-size="11" text-anchor="middle" fill="#333">**</text>
<text x="572.9" y="356.3" font-size="11" text-anchor="middle" fill="#333">**</text>
<text x="603.9" y="298.1" font-size="11" text-anchor="middle" fill="#333">**</text>
<text x="634.9" y="313.6" font-size="11" text-anchor="middle" fill="#333">**</text>
<text x="665.9" y="329.4" font-size="11" text-anchor="middle" fill="#333">**</text>
</g>
</svg>
</body></html>
